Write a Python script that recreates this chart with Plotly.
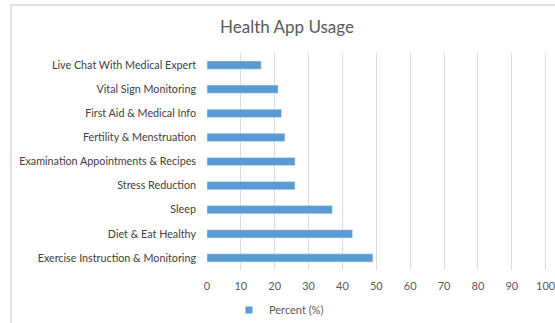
import plotly.graph_objects as go

categories = [
    "Live Chat With Medical Expert",
    "Vital Sign Monitoring",
    "First Aid & Medical Info",
    "Fertility & Menstruation",
    "Examination Appointments & Recipes",
    "Stress Reduction",
    "Sleep",
    "Diet & Eat Healthy",
    "Exercise Instruction & Monitoring",
]
percent = [16, 21, 22, 23, 26, 26, 37, 43, 49]
x_ticks = [0, 10, 20, 30, 40, 50, 60, 70, 80, 90, 100]

FONT = "Lato"
GREY = "#595959"
BLUE = "#5b9bd5"

fig = go.Figure()
fig.add_trace(go.Bar(
    x=percent, y=categories, orientation="h",
    name="Percent (%)", marker_color=BLUE,
    showlegend=False,
))
fig.add_trace(go.Scatter(
    x=[None], y=[None], mode="markers", name="Percent (%)",
    marker=dict(symbol="square", size=7, color=BLUE),
    showlegend=True,
))

L, R, T, B = 207, 6, 53, 53
W, H = 555, 323
pw = W - L - R
ph = H - T - B

def px_x(p):
    return (p - L) / pw

def px_y(p):
    return (H - B - p) / ph

fig.update_layout(
    width=W, height=H,
    margin=dict(l=L, r=R, t=T, b=B, autoexpand=False),
    paper_bgcolor="white", plot_bgcolor="white",
    bargap=0.66,
    font=dict(family=FONT, size=11, color=GREY),
    title=dict(text="Health App Usage", x=287 / W, xanchor="center",
               y=1 - 27 / H, yanchor="middle",
               font=dict(family=FONT, size=17, color=GREY)),
    xaxis=dict(range=[0, 101], tickvals=x_ticks, showgrid=True,
               gridcolor="#dcdcdc", gridwidth=1, zeroline=False,
               showline=False, ticks="", tickfont=dict(size=11, color=GREY),
               ticklabelstandoff=8, ticklabeloverflow="allow",
               fixedrange=True),
    yaxis=dict(categoryorder="array", categoryarray=categories,
               autorange="reversed", showgrid=False, ticks="",
               showline=False, tickfont=dict(size=10.75, color="#404040"),
               ticklabelstandoff=10),
    legend=dict(orientation="h", xref="container", yref="container",
                x=279 / W, xanchor="center",
                y=1 - 310 / H, yanchor="middle",
                font=dict(size=11, color=GREY), itemwidth=30),
    shapes=[dict(type="rect", xref="paper", yref="paper",
                 x0=px_x(11), x1=px_x(580), y0=px_y(5), y1=px_y(340),
                 line=dict(color="#d9d9d9", width=1.5), layer="below")],
)

fig.write_html("out.html")
